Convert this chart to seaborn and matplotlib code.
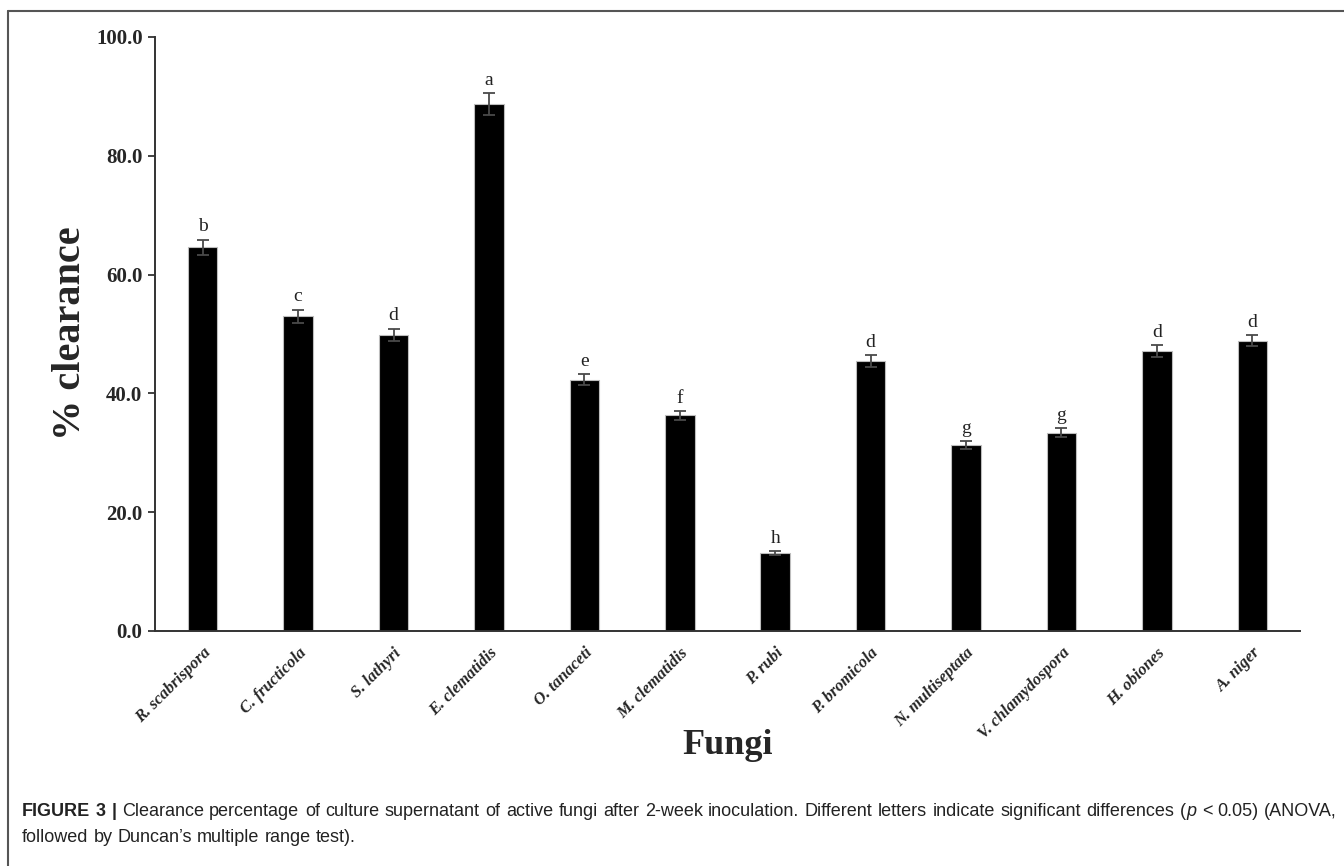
import matplotlib
matplotlib.use("Agg")
import matplotlib.pyplot as plt
import matplotlib.transforms as mtransforms
import seaborn as sns
import pandas as pd

# Clearance (%) of culture supernatant per fungus, with error and Duncan group letters
fungi = ["R. scabrispora", "C. fructicola", "S. lathyri", "E. clematidis",
         "O. tanaceti", "M. clematidis", "P. rubi", "P. bromicola",
         "N. multiseptata", "V. chlamydospora", "H. obiones", "A. niger"]
clearance = [64.6, 53.0, 49.9, 88.7, 42.3, 36.3, 13.1, 45.5, 31.3, 33.4, 47.1, 48.9]
errors = [1.3, 1.1, 1.0, 1.8, 0.9, 0.75, 0.3, 1.0, 0.7, 0.7, 1.0, 0.95]
groups = ["b", "c", "d", "a", "e", "f", "h", "d", "g", "g", "d", "d"]
y_ticks = [0, 20, 40, 60, 80, 100]

df = pd.DataFrame({"Fungi": fungi, "Clearance": clearance})

sns.set_theme(style="white")
plt.rcParams["font.family"] = ["Liberation Serif", "DejaVu Serif"]

W, H = 1344, 866
fig = plt.figure(figsize=(W / 100, H / 100), dpi=100)
ax = fig.add_axes([155 / W, 1 - 631 / H, (1300 - 155) / W, (631 - 37) / H])

sns.barplot(data=df, x="Fungi", y="Clearance", color="black", width=0.31,
            edgecolor="#bdbdbd", linewidth=0.8, errorbar=None, ax=ax,
            saturation=1)

xpos = list(range(len(fungi)))
ax.errorbar(xpos, clearance, yerr=errors, fmt="none", ecolor="#4a4a4a",
            elinewidth=1.3, capsize=4, capthick=1.3, zorder=3)

for i, (v, e, g) in enumerate(zip(clearance, errors, groups)):
    ax.annotate(g, (i, v + e), xytext=(0, 3), textcoords="offset points",
                ha="center", va="bottom", fontsize=14, color="#222222")

ax.set_ylim(0, 100)
ax.set_xlim(-0.5, len(fungi) - 0.5)
ax.set_yticks(y_ticks)
ax.set_yticklabels([f"{t:.1f}" for t in y_ticks], fontsize=15, fontweight="bold")
ax.set_xticks(xpos)
ax.set_xticklabels(fungi, rotation=45, ha="right", va="top",
                   rotation_mode="anchor", fontsize=12, fontweight="bold",
                   fontstyle="italic")
shift = mtransforms.ScaledTranslation(-6 / 100, 0, fig.dpi_scale_trans)
for lbl in ax.get_xticklabels():
    lbl.set_transform(lbl.get_transform() + shift)
ax.tick_params(axis="y", direction="out", length=5, width=1.3, color="#333333",
               left=True, pad=4)
ax.tick_params(axis="x", length=0, pad=10)

for side in ["top", "right"]:
    ax.spines[side].set_visible(False)
for side in ["left", "bottom"]:
    ax.spines[side].set_color("#333333")
    ax.spines[side].set_linewidth(1.4)

ax.set_ylabel("% clearance", fontsize=29, fontweight="bold", va="center")
ax.yaxis.set_label_coords((71 - 155) / 1145, (631 - 333) / 594)
ax.set_xlabel("Fungi", fontsize=26, fontweight="bold")
ax.xaxis.set_label_coords(0.5, -0.165)

# Frame around the figure panel
fig.add_artist(plt.Line2D([8 / W, 1.0], [1 - 11 / H, 1 - 11 / H],
                          transform=fig.transFigure, color="#555555", lw=1.5))
fig.add_artist(plt.Line2D([8 / W, 8 / W], [0.0, 1 - 11 / H],
                          transform=fig.transFigure, color="#555555", lw=1.5))

# Caption, laid out word by word (first line justified)
cap_font = ["Liberation Sans", "DejaVu Sans"]
cap_size = 13
fig.canvas.draw()
renderer = fig.canvas.get_renderer()


def tokens_of(segments):
    toks = []
    for txt, weight, style, glue in segments:
        words = txt.split(" ")
        for k, w in enumerate(words):
            if w:
                toks.append([w, weight, style, glue and k == 0])
    return toks


def word_width(w, weight, style):
    t = fig.text(0, 0, w, fontsize=cap_size, family=cap_font,
                 fontweight=weight, fontstyle=style)
    wd = t.get_window_extent(renderer=renderer).width
    t.remove()
    return wd


def put_line(segments, x0, y0, x_end=None):
    toks = tokens_of(segments)
    widths = [word_width(w, wt, st) for w, wt, st, _ in toks]
    space = word_width("a a", "normal", "normal") - 2 * word_width("a", "normal", "normal")
    n_gaps = sum(1 for t in toks[1:] if not t[3])
    if x_end is not None and n_gaps:
        space = (x_end - x0 - sum(widths)) / n_gaps
    x = x0
    for (w, wt, st, glued), wd in zip(toks, widths):
        if x > x0 and not glued:
            x += space
        fig.text(x / W, 1 - y0 / H, w, fontsize=cap_size, family=cap_font,
                 fontweight=wt, fontstyle=st, color="#222222",
                 va="baseline", ha="left")
        x += wd


line1 = [("FIGURE 3 |", "bold", "normal", False),
         ("Clearance percentage of culture supernatant of active fungi after "
          "2-week inoculation. Different letters indicate significant differences (",
          "normal", "normal", False),
         ("p", "normal", "italic", True),
         (" < 0.05) (ANOVA,", "normal", "normal", False)]
line2 = [("followed by Duncan\u2019s multiple range test).", "normal", "normal", False)]
put_line(line1, 22, 816, x_end=1337)
put_line(line2, 22, 842)

fig.savefig("out.png", dpi=100)
